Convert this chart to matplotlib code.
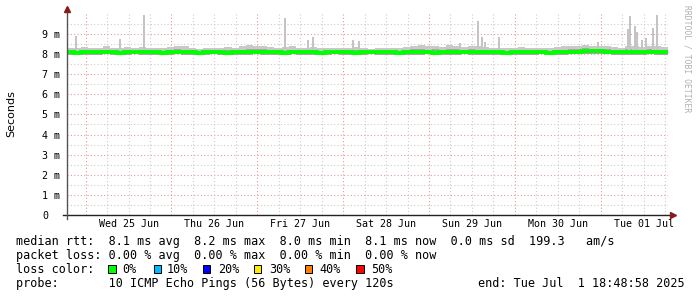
import matplotlib
matplotlib.use("Agg")
import matplotlib.pyplot as plt
import numpy as np
from matplotlib.patches import Rectangle

# ---------------- data (hours relative to Wed 25 Jun 00:00) ----------------
t_start = -5.2
t_end = 162.8
bin_h = 2.0

median_ms = [
    8.08, 8.07, 8.09, 8.08, 8.08, 8.10, 8.08, 8.07, 8.09, 8.08, 8.08, 8.09,
    8.08, 8.07, 8.08, 8.09, 8.08, 8.08, 8.07, 8.08, 8.09, 8.08, 8.07, 8.08,
    8.09, 8.08, 8.08, 8.10, 8.09, 8.08, 8.07, 8.08, 8.08, 8.09, 8.08, 8.07,
    8.08, 8.08, 8.09, 8.08, 8.07, 8.08, 8.08, 8.09, 8.08, 8.08, 8.07, 8.08,
    8.09, 8.08, 8.08, 8.07, 8.08, 8.09, 8.08, 8.08, 8.09, 8.10, 8.09, 8.08,
    8.08, 8.07, 8.08, 8.08, 8.09, 8.08, 8.08, 8.07, 8.08, 8.09, 8.10, 8.11,
    8.13, 8.14, 8.13, 8.12, 8.10, 8.09, 8.08, 8.09, 8.08, 8.09, 8.08, 8.08,
]
smoke_hi = [
    8.30, 8.28, 8.35, 8.30, 8.32, 8.38, 8.30, 8.28, 8.33, 8.30, 8.36, 8.30,
    8.28, 8.30, 8.35, 8.42, 8.38, 8.30, 8.27, 8.32, 8.30, 8.28, 8.35, 8.30,
    8.38, 8.45, 8.40, 8.42, 8.35, 8.30, 8.33, 8.38, 8.30, 8.28, 8.35, 8.30,
    8.28, 8.30, 8.32, 8.28, 8.35, 8.30, 8.27, 8.30, 8.32, 8.28, 8.30, 8.35,
    8.42, 8.45, 8.38, 8.40, 8.35, 8.45, 8.40, 8.35, 8.42, 8.38, 8.33, 8.30,
    8.28, 8.30, 8.28, 8.33, 8.30, 8.28, 8.32, 8.30, 8.35, 8.38, 8.40, 8.42,
    8.45, 8.40, 8.38, 8.42, 8.35, 8.32, 8.40, 8.38, 8.35, 8.42, 8.38, 8.35,
]
smoke_inner = [
    8.18, 8.16, 8.20, 8.17, 8.18, 8.22, 8.17, 8.16, 8.19, 8.17, 8.20, 8.18,
    8.16, 8.17, 8.20, 8.24, 8.22, 8.18, 8.16, 8.18, 8.18, 8.16, 8.20, 8.18,
    8.22, 8.26, 8.24, 8.25, 8.20, 8.18, 8.19, 8.22, 8.18, 8.16, 8.20, 8.17,
    8.16, 8.17, 8.19, 8.16, 8.20, 8.18, 8.16, 8.18, 8.19, 8.16, 8.17, 8.20,
    8.24, 8.26, 8.22, 8.23, 8.20, 8.26, 8.23, 8.20, 8.24, 8.22, 8.19, 8.18,
    8.16, 8.17, 8.16, 8.19, 8.18, 8.16, 8.19, 8.17, 8.20, 8.22, 8.24, 8.26,
    8.28, 8.26, 8.24, 8.26, 8.22, 8.20, 8.24, 8.22, 8.20, 8.25, 8.22, 8.20,
]
smoke_lo = [
    7.96, 7.98, 7.95, 7.97, 7.96, 7.98, 7.97, 7.95, 7.96, 7.98, 7.97, 7.96,
    7.97, 7.95, 7.96, 7.98, 7.96, 7.97, 7.95, 7.96, 7.98, 7.97, 7.96, 7.95,
    7.97, 7.96, 7.98, 7.96, 7.95, 7.97, 7.96, 7.98, 7.97, 7.95, 7.96, 7.97,
    7.96, 7.98, 7.95, 7.96, 7.97, 7.96, 7.98, 7.95, 7.96, 7.97, 7.96, 7.95,
    7.97, 7.96, 7.98, 7.96, 7.95, 7.97, 7.96, 7.98, 7.97, 7.96, 7.95, 7.97,
    7.96, 7.98, 7.95, 7.96, 7.97, 7.96, 7.98, 7.95, 7.96, 7.97, 7.98, 7.99,
    8.00, 8.01, 8.00, 7.99, 7.97, 7.96, 7.95, 7.97, 7.96, 7.98, 7.96, 7.97,
]
spike_t = [-2.7, 9.6, 16.3, 55.7, 62.2, 63.6, 74.8, 76.4, 104.7, 109.7, 110.8,
           111.7, 115.6, 143.2, 151.6, 152.2, 153.6, 154.1, 155.6, 156.7, 158.7, 159.8]
spike_v = [8.9, 8.75, 9.95, 9.8, 8.7, 8.85, 8.7, 8.65, 8.55, 9.65, 8.85,
           8.6, 8.85, 8.6, 9.25, 9.9, 9.4, 9.1, 8.7, 8.8, 9.3, 9.95]

day_labels = ["Wed 25 Jun", "Thu 26 Jun", "Fri 27 Jun", "Sat 28 Jun",
              "Sun 29 Jun", "Mon 30 Jun", "Tue 01 Jul"]
y_ticks = [0, 1, 2, 3, 4, 5, 6, 7, 8, 9]
y_labels = ["0", "1 m", "2 m", "3 m", "4 m", "5 m", "6 m", "7 m", "8 m", "9 m"]

loss_labels = ["0%", "10%", "20%", "30%", "40%", "50%"]
loss_colors = ["#00ff00", "#00bbff", "#0000ff", "#ffea00", "#ff7f00", "#ff0000"]

legend_rows = [
    "median rtt:  8.1 ms avg  8.2 ms max  8.0 ms min  8.1 ms now  0.0 ms sd  199.3   am/s",
    "packet loss: 0.00 % avg  0.00 % max  0.00 % min  0.00 % now",
    "loss color:",
    "probe:       10 ICMP Echo Pings (56 Bytes) every 120s",
]
end_text = "end: Tue Jul  1 18:48:58 2025"

# ---------------- figure ----------------
W, H = 697, 297
fig = plt.figure(figsize=(W / 100, H / 100), dpi=100)
fig.patch.set_facecolor("white")

def fx(px):
    return px / W

def fy(py):
    return 1 - py / H

L, R, T, B = 67, 668, 12, 215
ax = fig.add_axes([fx(L), fy(B), (R - L) / W, (B - T) / H])
ax.set_xlim(t_start, t_end)
ax.set_ylim(0, 10.09)
ax.set_facecolor("white")

mono = "DejaVu Sans Mono"
dot = (0, (1, 2))
# grid
for v in np.arange(0.5, 10.0, 1.0):
    ax.axhline(v, color="#cccccc", lw=0.8, ls=dot, zorder=0)
for v in y_ticks[1:]:
    ax.axhline(v, color="#e89898", lw=0.8, ls=dot, zorder=0)
for d in range(-1, 7):
    for q in (6, 12, 18):
        h = d * 24 + q
        if t_start < h < t_end:
            ax.axvline(h, color="#cccccc", lw=0.8, ls=dot, zorder=0)
    h = (d + 1) * 24
    if t_start < h < t_end:
        ax.axvline(h, color="#e89898", lw=0.8, ls=dot, zorder=0)

edges = t_start + bin_h * np.arange(len(median_ms) + 1)
ax.stairs(smoke_hi, edges, baseline=smoke_lo, fill=True, color="#c8c8c8", zorder=2)
ax.stairs(smoke_inner, edges, baseline=smoke_lo, fill=True, color="#a6a6a6", zorder=2)
sv = np.array(spike_v)
ax.bar(spike_t, sv - 8.1, bottom=8.1, width=0.6, color="#c4c4c4", zorder=2)
ax.stairs(median_ms, edges, baseline=None, color="#00ff00", lw=2.8, zorder=3)

# axes lines
for s in ax.spines.values():
    s.set_visible(False)
ax.plot([-4 / 601, 1 + 4 / 601], [0, 0], transform=ax.transAxes, color="#222222",
        lw=1, clip_on=False, zorder=5)
ax.plot([0, 0], [-4 / 203, 1 + 2 / 203], transform=ax.transAxes, color="#555555",
        lw=1, clip_on=False, zorder=5)
ax.plot([1 + 5 / 601], [0], marker=">", ms=4, color="#8b1a1a", transform=ax.transAxes,
        clip_on=False, zorder=6)
ax.plot([0], [1 + 3 / 203], marker="^", ms=4, color="#8b1a1a", transform=ax.transAxes,
        clip_on=False, zorder=6)

ax.set_yticks(y_ticks)
ax.set_yticklabels(y_labels, fontfamily=mono, fontsize=7.2)
ax.tick_params(axis="y", length=0, pad=(L - 42.5) * 0.72)
for lab in ax.get_yticklabels():
    lab.set_horizontalalignment("left")
ax.set_xticks([12 + 24 * i for i in range(len(day_labels))])
ax.set_xticklabels(day_labels, fontfamily=mono, fontsize=7.2)
ax.tick_params(axis="x", length=0, pad=3)

fig.text(fx(11), fy(113.5), "Seconds", rotation=90, ha="center", va="center",
         fontsize=8, fontfamily="DejaVu Sans")
fig.text(fx(687), fy(5), "RRDTOOL / TOBI OETIKER", rotation=270, ha="center", va="top",
         fontsize=5.8, fontfamily=mono, color="#b0b0b0")

# legend
baselines = [245.5, 259.2, 272.9, 286.6]
for row, yb in zip(legend_rows, baselines):
    fig.text(fx(16), fy(yb), row, ha="left", va="baseline", fontsize=8.5,
             fontfamily=mono, color="#000000")
fig.text(fx(478), fy(baselines[3]), end_text, ha="left", va="baseline", fontsize=8.5,
         fontfamily=mono)
sq_x = [108.0, 153.8, 202.8, 253.8, 304.8, 356.2]
txt_x = [122.5, 166.8, 217.8, 268.8, 319.8, 371.2]
for xs, xt, c, lab in zip(sq_x, txt_x, loss_colors, loss_labels):
    fig.add_artist(Rectangle((fx(xs), fy(273.0)), 7.5 / W, 7.8 / H, transform=fig.transFigure,
                             facecolor=c, edgecolor="black", lw=0.7))
    fig.text(fx(xt), fy(baselines[2]), lab, ha="left", va="baseline", fontsize=8.5,
             fontfamily=mono)

fig.savefig("out.png", dpi=100, facecolor="white")
